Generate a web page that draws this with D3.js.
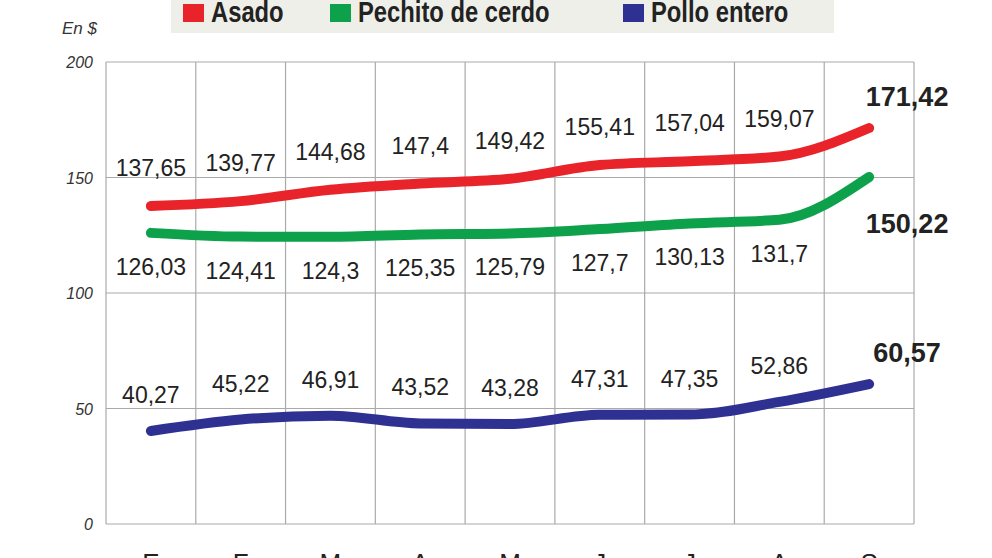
<!DOCTYPE html>
<html>
<head>
<meta charset="utf-8">
<script src="https://cdn.jsdelivr.net/npm/d3@7"></script>
<style>
body { margin: 0; background: #fff; }
text { font-family: "Liberation Sans", Arial, sans-serif; }
</style>
</head>
<body>
<svg id="chart" width="992" height="558"></svg>
<script>
const months = ["E", "F", "M", "A", "M", "J", "J", "A", "S"];
const asado = [137.65, 139.77, 144.68, 147.4, 149.42, 155.41, 157.04, 159.07, 171.42];
const pechito = [126.03, 124.41, 124.3, 125.35, 125.79, 127.7, 130.13, 131.7, 150.22];
const pollo = [40.27, 45.22, 46.91, 43.52, 43.28, 47.31, 47.35, 52.86, 60.57];
const yTicks = [0, 50, 100, 150, 200];

const series = [
  { name: "Asado", values: asado, color: "#e8232a", dy: -38, last: -30 },
  { name: "Pechito de cerdo", values: pechito, color: "#0ea14b", dy: 34, last: 48 },
  { name: "Pollo entero", values: pollo, color: "#2e3192", dy: -36, last: -30 }
];

const svg = d3.select("#chart");
const x = d3.scaleBand().domain(d3.range(months.length)).range([106, 914]);
const y = d3.scaleLinear().domain([0, 200]).range([524, 62]);
const fmt = v => String(v).replace(".", ",");

// grid
svg.selectAll(".h").data(yTicks).join("line")
  .attr("x1", 106).attr("x2", 914)
  .attr("y1", d => y(d)).attr("y2", d => y(d))
  .attr("stroke", "#aaa").attr("stroke-width", 1.2);
svg.selectAll(".v").data(d3.range(months.length + 1)).join("line")
  .attr("x1", i => 106 + i * x.bandwidth()).attr("x2", i => 106 + i * x.bandwidth())
  .attr("y1", y(200)).attr("y2", y(0))
  .attr("stroke", "#aaa").attr("stroke-width", 1.2);

svg.selectAll(".yl").data(yTicks).join("text")
  .attr("x", 93).attr("y", d => y(d) + 6)
  .attr("text-anchor", "end").attr("font-size", 16).attr("font-style", "italic")
  .attr("fill", "#333").text(d => d);
svg.append("text").attr("x", 62).attr("y", 34).attr("font-size", 17)
  .attr("font-style", "italic").attr("fill", "#333").text("En $");

svg.selectAll(".xl").data(months).join("text")
  .attr("x", (d, i) => x(i) + x.bandwidth() / 2).attr("y", 572)
  .attr("text-anchor", "middle").attr("font-size", 26).attr("fill", "#222").text(d => d);

const line = d3.line().x((d, i) => x(i) + x.bandwidth() / 2).y(d => y(d)).curve(d3.curveMonotoneX);

series.forEach(s => {
  svg.append("path").attr("d", line(s.values)).attr("fill", "none")
    .attr("stroke", s.color).attr("stroke-width", 10).attr("stroke-linecap", "round");
  svg.selectAll(null).data(s.values).join("text")
    .attr("x", (d, i) => i === 8 ? x(i) + x.bandwidth() / 2 + 38 : x(i) + x.bandwidth() / 2)
    .attr("y", (d, i) => y(d) + (i === 8 ? s.last : s.dy) + 8)
    .attr("text-anchor", "middle")
    .attr("font-size", (d, i) => i === 8 ? 27 : 23)
    .attr("font-weight", (d, i) => i === 8 ? "bold" : "normal")
    .attr("fill", "#222").text(d => fmt(d));
});

// legend
svg.append("rect").attr("x", 171).attr("y", -5).attr("width", 663).attr("height", 38).attr("fill", "#efefe9");
const legX = [183, 330, 623];
series.forEach((s, i) => {
  svg.append("rect").attr("x", legX[i]).attr("y", 4).attr("width", 21).attr("height", 18).attr("fill", s.color);
  svg.append("text").attr("transform", `translate(${legX[i] + 28},22) scale(0.82,1)`)
    .attr("font-size", 29).attr("font-weight", "bold").attr("fill", "#222").text(s.name);
});
</script>
</body>
</html>
